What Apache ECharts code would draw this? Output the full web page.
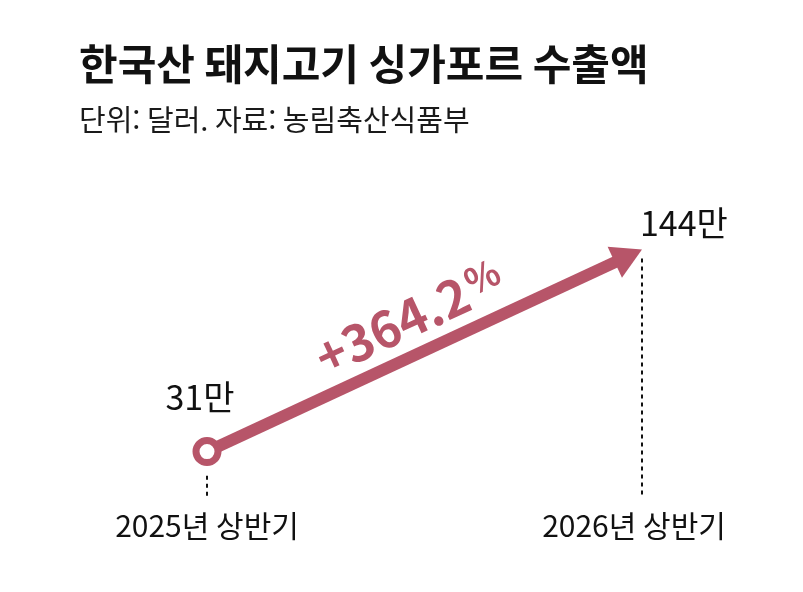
<!DOCTYPE html>
<html lang="ko">
<head>
    <meta charset="UTF-8">
    <title>한국산 돼지고기 싱가포르 수출액</title>
    <script src="https://cdn.jsdelivr.net/npm/echarts@6/dist/echarts.min.js"></script>
    <style>
        body { margin: 0; background: #fff; }
        #chart { width: 803px; height: 592px; }
    </style>
</head>
<body>
    <div id="chart"></div>
    <script>
        // 데이터
        const categories = ['2025년 상반기', '2026년 상반기'];
        const exportValues = [31, 144];
        const valueLabels = ['31만', '144만'];
        const changeLabel = '+364.2';

        const RED = '#b75569';
        const KR = "'Noto Sans CJK KR', sans-serif";

        const chart = echarts.init(document.getElementById('chart'));

        // 화살표 방향 (화면 기준 각도)
        const ARROW_ANGLE = 24.9;
        const HEAD = [34, 30];
        const rad = ARROW_ANGLE * Math.PI / 180;
        const headOffset = [-HEAD[1] / 2 * Math.cos(rad), HEAD[1] / 2 * Math.sin(rad)];

        const lineData = exportValues.map((v, i) => i === 0
            ? { value: v, symbol: 'circle', symbolSize: 22,
                itemStyle: { color: '#fff', borderColor: RED, borderWidth: 7 } }
            : { value: v, symbol: 'triangle', symbolSize: HEAD,
                symbolRotate: -(90 - ARROW_ANGLE), symbolOffset: headOffset,
                itemStyle: { color: RED, borderWidth: 0 } });

        const labelData = exportValues.map((v, i) => ({
            value: v,
            label: i === 0
                ? { position: 'top', distance: 37, offset: [-7, 0] }
                : { position: 'top', align: 'left', distance: 9, offset: [-2, 0] }
        }));

        const dash = { color: '#111', width: 2, type: [4, 4] };

        const option = {
            animation: false,
            title: [
                {
                    text: '한국산 돼지고기 싱가포르 수출액',
                    left: 74, top: 38,
                    textStyle: { fontFamily: KR, fontSize: 42, fontWeight: 'bold', color: '#111' }
                },
                {
                    text: '단위: 달러. 자료: 농림축산식품부',
                    left: 74, top: 100,
                    textStyle: { fontFamily: KR, fontSize: 29, fontWeight: 'normal', color: '#1a1a1a' }
                }
            ],
            grid: { left: 207, right: 161, top: 221, bottom: 85 },
            xAxis: {
                type: 'category',
                boundaryGap: false,
                data: categories.map((c, i) => i === 1
                    ? { value: c, textStyle: { padding: [0, 16, 0, 0] } }
                    : c),
                axisLine: { show: false },
                axisTick: { show: false },
                axisLabel: { fontFamily: KR, fontSize: 30, color: '#111', margin: 4 }
            },
            yAxis: { type: 'value', min: 0, max: 160, show: false },
            series: [
                {
                    type: 'line',
                    data: lineData,
                    z: 3,
                    lineStyle: { color: RED, width: 12, type: [466, 1000], cap: 'butt' },
                    label: { show: false }
                },
                {
                    type: 'scatter',
                    data: labelData,
                    symbolSize: 1,
                    itemStyle: { color: 'transparent', opacity: 1 },
                    z: 2,
                    label: {
                        show: true,
                        formatter: p => valueLabels[p.dataIndex],
                        fontFamily: KR, fontSize: 34, color: '#111'
                    },
                    markLine: {
                        silent: true,
                        symbol: ['none', 'none'],
                        data: [
                            [
                                { coord: [categories[0], exportValues[0] - 13.5], lineStyle: dash, label: { show: false } },
                                { coord: [categories[0], 5] }
                            ],
                            [
                                { coord: [categories[1], exportValues[1] - 5], lineStyle: dash, label: { show: false } },
                                { coord: [categories[1], 5] }
                            ],
                            [
                                {
                                    coord: [categories[0], exportValues[0]],
                                    lineStyle: { color: 'transparent', width: 0 },
                                    label: {
                                        show: true,
                                        position: 'insideMiddleTop',
                                        distance: 11,
                                        formatter: '{n|' + changeLabel + '}{p|%}',
                                        rich: {
                                            n: { fontFamily: KR, fontSize: 50, fontWeight: 'bold', color: RED },
                                            p: { fontFamily: KR, fontSize: 36, fontWeight: 'bold', color: RED,
                                                 verticalAlign: 'top', padding: [0, 0, 14, 3] }
                                        }
                                    }
                                },
                                { coord: [categories[1], exportValues[1]] }
                            ]
                        ]
                    }
                }
            ]
        };

        chart.setOption(option);
    </script>
</body>
</html>
